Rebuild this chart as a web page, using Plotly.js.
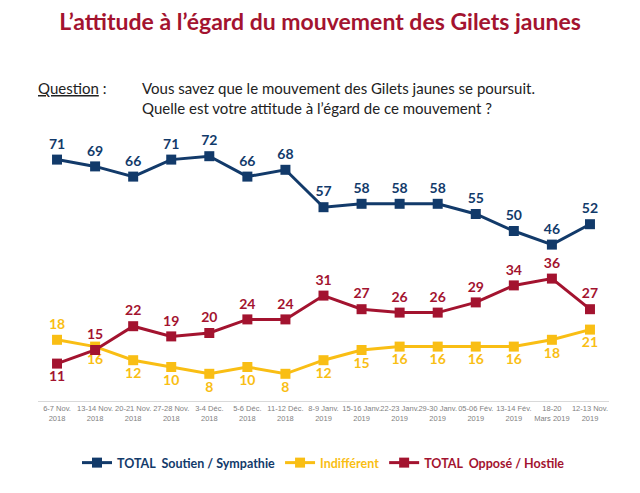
<!DOCTYPE html>
<html><head><meta charset="utf-8">
<script src="https://cdn.plot.ly/plotly-3.0.1.min.js"></script>
<style>html,body{margin:0;padding:0;background:#fff}#chart{width:640px;height:493px}</style>
</head><body><div id="chart"></div>
<script>
const categories = ["6-7 Nov.<br>2018","13-14 Nov.<br>2018","20-21 Nov.<br>2018","27-28 Nov.<br>2018","3-4 Déc.<br>2018","5-6 Déc.<br>2018","11-12 Déc.<br>2018","8-9 Janv.<br>2019","15-16 Janv.<br>2019","22-23 Janv.<br>2019","29-30 Janv.<br>2019","05-06 Fév.<br>2019","13-14 Fév.<br>2019","18-20<br>Mars 2019","12-13 Nov.<br>2019"];
const soutien = [71,69,66,71,72,66,68,57,58,58,58,55,50,46,52];
const indifferent = [18,16,12,10,8,10,8,12,15,16,16,16,16,18,21];
const oppose = [11,15,22,19,20,24,24,31,27,26,26,29,34,36,27];
const seriesNames = ["TOTAL  Soutien / Sympathie","Indifférent","TOTAL  Opposé / Hostile"];
const indiffPos = ["top center","bottom center","bottom center","bottom center","bottom center","bottom center","bottom center","bottom center","bottom center","bottom center","bottom center","bottom center","bottom center","bottom center","bottom center"];
const opposePos = ["bottom center","top center","top center","top center","top center","top center","top center","top center","top center","top center","top center","top center","top center","top center","top center"];

const BLUE = "#123A6A", YEL = "#F9BE14", RED = "#A3132F";
const x = categories.map((c,i)=>i);
function tr(name, y, color, pos){
  return {type:"scatter", mode:"lines+markers+text",
    name:"<span style='color:"+color+"'>"+name+"</span>", x:x, y:y,
    line:{color:color,width:3}, marker:{symbol:"square",size:10,color:color},
    text:y.map(String), textposition:pos,
    textfont:{family:"Lato, 'Open Sans', sans-serif", size:14, color:color, weight:"bold"},
    cliponaxis:false, hoverinfo:"skip"};
}
const data = [
  tr(seriesNames[0], soutien, BLUE, "top center"),
  tr(seriesNames[1], indifferent, YEL, indiffPos),
  tr(seriesNames[2], oppose, RED, opposePos)
];
const PT = 129, PH = 493-129-92;
const layout = {
  width:640, height:493, paper_bgcolor:"#fff", plot_bgcolor:"#fff",
  margin:{l:38, r:31, t:PT, b:92},
  showlegend:true,
  legend:{orientation:"h", x:0.5, xanchor:"center", y:-(463-401)/PH, yanchor:"middle",
    font:{family:"Lato, sans-serif", size:12.5, weight:"bold"}, itemwidth:30},
  xaxis:{type:"linear", range:[-0.5,14.5], tickmode:"array", tickvals:x, ticktext:categories, tickangle:0,
    showgrid:false, zeroline:false, showline:true, linecolor:"#D9D9D9", linewidth:1,
    ticks:"", tickfont:{family:"Liberation Sans Narrow, Arial Narrow, sans-serif", size:7.5, color:"#7F7F7F"}, fixedrange:true},
  yaxis:{range:[0,80], visible:false, fixedrange:true},
  title:{text:"L’attitude à l’égard du mouvement des Gilets jaunes", x:0.5, xanchor:"center", y:1-22/493, yanchor:"middle",
    font:{family:"Lato, sans-serif", size:23, color:"#A3132F", weight:"bold"}},
  annotations:[
    {xref:"paper", yref:"paper", x:-2/571, y:1+(PT-88)/PH, xanchor:"left", yanchor:"middle", showarrow:false, align:"left",
     text:"<span style='text-decoration:underline'>Question</span> :", font:{family:"Lato, sans-serif", size:15, color:"#222"}},
    {xref:"paper", yref:"paper", x:(140-38)/571, y:1+(PT-97.5)/PH, xanchor:"left", yanchor:"middle", showarrow:false, align:"left",
     text:"Vous savez que le mouvement des Gilets jaunes se poursuit.<br>Quelle est votre attitude à l’égard de ce mouvement ?",
     font:{family:"Lato, sans-serif", size:15, color:"#222"}}
  ]
};
Plotly.newPlot("chart", data, layout, {displayModeBar:false, staticPlot:true});
</script></body></html>
